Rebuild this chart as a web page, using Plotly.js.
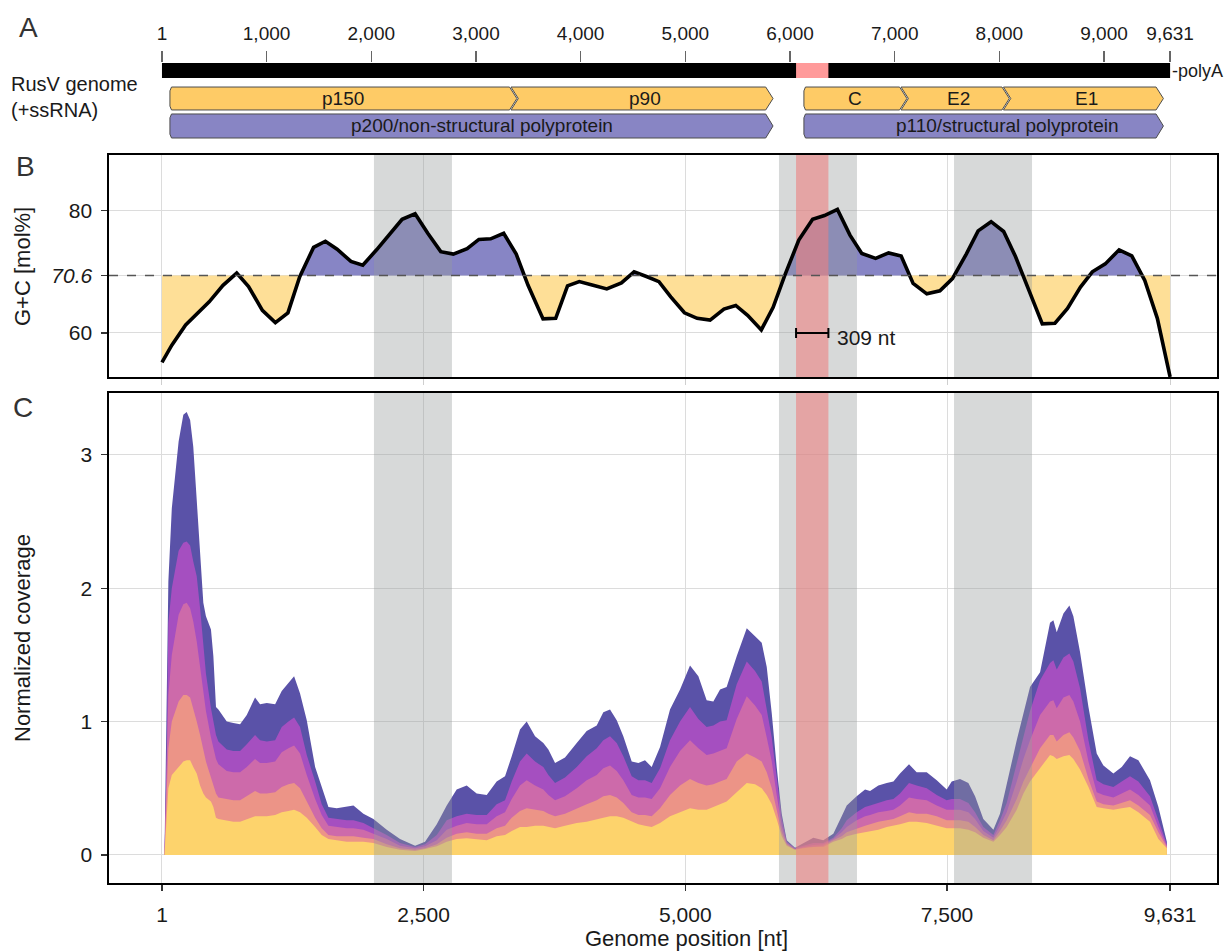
<!DOCTYPE html>
<html><head><meta charset="utf-8">
<script src="https://cdn.plot.ly/plotly-3.0.1.min.js"></script>
<style>html,body{margin:0;padding:0;background:#fff}#chart{width:1228px;height:951px}</style>
</head><body><div id="chart"></div>
<script>
// ---------------- data ----------------
const genomeStart = 1;
const genomeEnd = 9631;
const axisTickVals = [1, 2500, 5000, 7500, 9631];
const axisTickText = ['1', '2,500', '5,000', '7,500', '9,631'];
const mapTickVals = [1, 1000, 2000, 3000, 4000, 5000, 6000, 7000, 8000, 9000, 9631];
const mapTickText = ['1', '1,000', '2,000', '3,000', '4,000', '5,000', '6,000', '7,000', '8,000', '9,000', '9,631'];

const junctionStart = 6058;   // highlighted 309 nt region
const junctionEnd = 6367;
const junctionLabel = '309 nt';
const greyBandStart = [2026, 5895, 7567];
const greyBandEnd = [2771, 6640, 8312];

const geneNames = ['p150', 'p90', 'C', 'E2', 'E1', 'p200/non-structural polyprotein', 'p110/structural polyprotein'];
const geneStart = [77, 3391, 6133, 7117, 8095, 77, 6133];
const geneEnd = [3391, 5838, 7117, 8095, 9567, 5838, 9567];
const geneLabelAt = [1734, 4615, 6625, 7606, 8831, 3058, 8073];
const geneRow = [1, 1, 1, 1, 1, 2, 2];
const geneFollows = [false, true, false, true, true, false, false];
const geneKind = ['mature', 'mature', 'mature', 'mature', 'mature', 'poly', 'poly'];

const gcMeanLabel = '70.6';
const gcMeanLevel = 69.4;
const gcTickVals = [60, 80];
const gcPos = [1, 95, 227, 340, 452, 584, 715, 828, 960, 1084, 1204, 1317, 1449, 1562, 1674, 1806, 1919, 2051, 2183, 2295,
  2419, 2540, 2664, 2784, 2916, 3028, 3141, 3265, 3385, 3498, 3641, 3762, 3875, 3987, 4119, 4250, 4390, 4511, 4635, 4748,
  4861, 4992, 5113, 5237, 5369, 5482, 5595, 5726, 5839, 5952, 6084, 6216, 6329, 6453, 6573, 6686, 6818, 6942, 7062, 7176,
  7307, 7432, 7552, 7684, 7797, 7921, 8041, 8154, 8275, 8410, 8531, 8651, 8775, 8888, 9012, 9144, 9265, 9389, 9509, 9631];
const gcVal = [55.2, 58.0, 61.3, 63.2, 65.1, 67.8, 69.8, 67.6, 63.7, 61.7, 63.3, 69.2, 74.0, 75.0, 73.7, 71.7, 71.1, 73.6, 76.3, 78.6,
  79.5, 76.3, 73.3, 72.9, 73.8, 75.3, 75.4, 76.3, 72.9, 67.8, 62.3, 62.4, 67.7, 68.4, 67.8, 67.2, 68.2, 70.0, 69.2, 68.4,
  65.9, 63.3, 62.4, 62.1, 63.9, 64.5, 62.9, 60.5, 64.2, 69.5, 75.2, 78.6, 79.2, 80.2, 76.0, 73.0, 72.2, 73.1, 72.6, 68.1,
  66.4, 66.9, 68.9, 72.9, 76.7, 78.2, 76.6, 72.5, 67.3, 61.5, 61.6, 64.0, 67.5, 70.0, 71.3, 73.6, 72.6, 68.6, 62.4, 52.8];

const covTickVals = [0, 1, 2, 3];
const covPos = [25, 45, 62, 95, 160, 205, 237, 270, 300, 333,
  365, 396, 421, 469, 492, 517, 540, 620, 683, 747,
  811, 890, 938, 1002, 1082, 1145, 1209, 1263, 1320, 1384,
  1464, 1527, 1591, 1670, 1766, 1830, 1925, 2021, 2148, 2275,
  2419, 2514, 2626, 2721, 2816, 2912, 3007, 3103, 3198, 3278,
  3342, 3421, 3485, 3565, 3644, 3692, 3756, 3851, 3963, 4058,
  4154, 4217, 4281, 4345, 4408, 4488, 4552, 4615, 4679, 4759,
  4854, 4950, 5045, 5125, 5204, 5268, 5332, 5395, 5491, 5587,
  5666, 5730, 5778, 5826, 5873, 5921, 5969, 6048, 6127, 6223,
  6318, 6414, 6494, 6542, 6637, 6717, 6765, 6844, 6924, 6988,
  7051, 7137, 7210, 7306, 7402, 7497, 7545, 7624, 7704, 7768,
  7847, 7943, 8006, 8070, 8166, 8230, 8293, 8389, 8484, 8516,
  8548, 8612, 8669, 8707, 8771, 8851, 8930, 8994, 9089, 9169,
  9248, 9328, 9439, 9519, 9583, 9600];
const covTop = [0, 0.95, 2.05, 2.6, 3.1, 3.3, 3.32, 3.26, 3.06, 2.66,
  2.24, 1.89, 1.79, 1.69, 1.49, 1.11, 1.09, 1.00, 0.99, 0.98,
  1.05, 1.18, 1.13, 1.14, 1.13, 1.23, 1.29, 1.34, 1.21, 1.01,
  0.66, 0.51, 0.36, 0.35, 0.36, 0.37, 0.31, 0.27, 0.19, 0.12,
  0.07, 0.10, 0.23, 0.37, 0.49, 0.52, 0.46, 0.45, 0.55, 0.59,
  0.74, 0.94, 1.00, 0.89, 0.84, 0.79, 0.69, 0.73, 0.84, 0.93,
  0.97, 1.07, 1.09, 1.01, 0.89, 0.70, 0.69, 0.71, 0.66, 0.81,
  1.09, 1.24, 1.42, 1.34, 1.16, 1.15, 1.24, 1.26, 1.49, 1.70,
  1.64, 1.59, 1.41, 1.06, 0.66, 0.31, 0.11, 0.055, 0.088, 0.13,
  0.11, 0.16, 0.29, 0.37, 0.44, 0.49, 0.48, 0.52, 0.54, 0.55,
  0.61, 0.68, 0.62, 0.62, 0.56, 0.49, 0.55, 0.57, 0.54, 0.44,
  0.27, 0.19, 0.31, 0.54, 0.86, 1.06, 1.26, 1.37, 1.74, 1.76,
  1.67, 1.81, 1.87, 1.79, 1.52, 1.11, 0.76, 0.67, 0.61, 0.66,
  0.74, 0.71, 0.56, 0.36, 0.16, 0.10];
const covViolet = [0, 0.7, 1.74, 2.0, 2.28, 2.34, 2.35, 2.32, 2.2, 2.09,
  1.85, 1.6, 1.36, 1.1, 1.01, 0.9, 0.85, 0.79, 0.78, 0.78,
  0.83, 0.90, 0.86, 0.85, 0.86, 0.96, 1.0, 1.03, 0.96, 0.75,
  0.55, 0.38, 0.28, 0.27, 0.26, 0.26, 0.24, 0.2, 0.15, 0.09,
  0.06, 0.08, 0.15, 0.26, 0.29, 0.31, 0.30, 0.30, 0.38, 0.41,
  0.55, 0.70, 0.76, 0.70, 0.66, 0.60, 0.54, 0.58, 0.66, 0.74,
  0.80, 0.86, 0.89, 0.84, 0.74, 0.59, 0.56, 0.56, 0.54, 0.65,
  0.86, 1.0, 1.11, 1.02, 0.96, 0.97, 1.0, 1.01, 1.28, 1.45,
  1.38, 1.30, 1.1, 0.88, 0.58, 0.28, 0.10, 0.05, 0.07, 0.09,
  0.09, 0.13, 0.20, 0.26, 0.32, 0.36, 0.37, 0.39, 0.41, 0.42,
  0.46, 0.54, 0.52, 0.50, 0.45, 0.41, 0.42, 0.42, 0.39, 0.32,
  0.21, 0.15, 0.26, 0.39, 0.68, 0.89, 1.08, 1.31, 1.44, 1.46,
  1.39, 1.48, 1.51, 1.45, 1.25, 0.86, 0.56, 0.53, 0.51, 0.55,
  0.59, 0.55, 0.44, 0.26, 0.12, 0.08];
const covMagenta = [0, 0.55, 1.2, 1.5, 1.8, 1.88, 1.89, 1.85, 1.75, 1.6,
  1.42, 1.25, 1.08, 0.88, 0.8, 0.72, 0.68, 0.63, 0.62, 0.62,
  0.66, 0.72, 0.69, 0.69, 0.70, 0.77, 0.80, 0.82, 0.76, 0.6,
  0.42, 0.3, 0.22, 0.21, 0.2, 0.2, 0.19, 0.16, 0.12, 0.07,
  0.05, 0.065, 0.11, 0.19, 0.22, 0.24, 0.23, 0.23, 0.29, 0.32,
  0.42, 0.52, 0.56, 0.52, 0.49, 0.45, 0.41, 0.44, 0.5, 0.56,
  0.6, 0.65, 0.67, 0.63, 0.56, 0.45, 0.43, 0.43, 0.42, 0.5,
  0.66, 0.78, 0.86, 0.8, 0.75, 0.76, 0.78, 0.8, 1.02, 1.19,
  1.12, 1.05, 0.88, 0.7, 0.45, 0.22, 0.09, 0.045, 0.06, 0.075,
  0.08, 0.12, 0.17, 0.21, 0.26, 0.29, 0.30, 0.32, 0.33, 0.34,
  0.37, 0.43, 0.42, 0.41, 0.37, 0.34, 0.34, 0.34, 0.32, 0.27,
  0.18, 0.13, 0.22, 0.32, 0.55, 0.72, 0.86, 1.05, 1.15, 1.16,
  1.1, 1.18, 1.2, 1.15, 1.0, 0.7, 0.47, 0.45, 0.43, 0.46,
  0.49, 0.45, 0.37, 0.21, 0.1, 0.07];
const covSalmon = [0, 0.4, 0.8, 1.0, 1.15, 1.2, 1.2, 1.18, 1.1, 1.0,
  0.9, 0.78, 0.7, 0.58, 0.52, 0.46, 0.43, 0.42, 0.41, 0.41,
  0.44, 0.48, 0.46, 0.46, 0.47, 0.51, 0.53, 0.54, 0.5, 0.4,
  0.28, 0.2, 0.15, 0.14, 0.14, 0.14, 0.13, 0.12, 0.08, 0.05,
  0.04, 0.05, 0.08, 0.13, 0.16, 0.17, 0.16, 0.16, 0.2, 0.22,
  0.28, 0.33, 0.35, 0.34, 0.33, 0.31, 0.29, 0.31, 0.35, 0.38,
  0.41, 0.44, 0.45, 0.43, 0.39, 0.32, 0.3, 0.3, 0.29, 0.35,
  0.45, 0.52, 0.57, 0.54, 0.52, 0.53, 0.55, 0.57, 0.7, 0.76,
  0.73, 0.7, 0.62, 0.5, 0.34, 0.17, 0.08, 0.04, 0.055, 0.065,
  0.07, 0.11, 0.14, 0.17, 0.2, 0.22, 0.23, 0.25, 0.26, 0.27,
  0.29, 0.32, 0.31, 0.31, 0.29, 0.26, 0.26, 0.26, 0.25, 0.21,
  0.15, 0.11, 0.18, 0.26, 0.42, 0.55, 0.65, 0.8, 0.9, 0.9,
  0.85, 0.9, 0.92, 0.88, 0.78, 0.57, 0.4, 0.38, 0.37, 0.39,
  0.41, 0.37, 0.3, 0.17, 0.08, 0.06];
const covYellow = [0, 0.33, 0.5, 0.6, 0.66, 0.70, 0.71, 0.71, 0.66, 0.61,
  0.52, 0.46, 0.43, 0.40, 0.36, 0.28, 0.27, 0.26, 0.25, 0.25,
  0.27, 0.29, 0.29, 0.29, 0.30, 0.32, 0.33, 0.34, 0.32, 0.28,
  0.21, 0.15, 0.12, 0.11, 0.10, 0.10, 0.10, 0.09, 0.06, 0.04,
  0.03, 0.045, 0.065, 0.10, 0.12, 0.125, 0.12, 0.11, 0.14, 0.15,
  0.18, 0.21, 0.21, 0.22, 0.22, 0.21, 0.20, 0.22, 0.24, 0.25,
  0.27, 0.28, 0.29, 0.29, 0.28, 0.25, 0.23, 0.22, 0.21, 0.24,
  0.29, 0.32, 0.35, 0.34, 0.34, 0.36, 0.38, 0.40, 0.47, 0.54,
  0.53, 0.50, 0.45, 0.38, 0.27, 0.14, 0.07, 0.04, 0.05, 0.06,
  0.06, 0.10, 0.12, 0.14, 0.16, 0.17, 0.18, 0.19, 0.21, 0.22,
  0.23, 0.25, 0.25, 0.24, 0.22, 0.20, 0.20, 0.20, 0.19, 0.17,
  0.13, 0.10, 0.15, 0.21, 0.34, 0.46, 0.55, 0.65, 0.75, 0.74,
  0.72, 0.74, 0.75, 0.72, 0.64, 0.51, 0.36, 0.35, 0.34, 0.35,
  0.36, 0.32, 0.25, 0.12, 0.07, 0.05];

// ---------------- style / layout constants ----------------
const FONT = 'Liberation Sans, Arial, Helvetica, sans-serif';
const W = 1228, H = 951;
const XD = [109 / W, 1217 / W];
const XR = [-505, 10079];
const px = (p) => p / W;
const py = (p) => 1 - p / H;
const covRange = [-0.21, 3.463];
const gcRange = [52.8, 89.11];
const mapRange = [0, 10];
const barY = [8.05, 10];
const rowY = {1: [3.9, 6.88], 2: [0.26, 3.38]};
const tip = 70, gap = 14;
const GRID = '#dcdcdc';
const layerColors = ['#5a52a8', '#a54fc0', '#cd6aaa', '#ec9487', '#fdd36c'];
const layerSeries = [covTop, covViolet, covMagenta, covSalmon, covYellow];
const greyFill = 'rgba(150,156,156,0.38)';
const pinkFill = 'rgba(236,128,128,0.6)';

const traces = [];

// ---------------- panel C: coverage layers ----------------
layerSeries.forEach((ys, i) => {
  traces.push({x: covPos, y: ys, type: 'scatter', mode: 'lines', fill: 'tozeroy',
    fillcolor: layerColors[i], line: {width: 0, color: layerColors[i]},
    xaxis: 'x', yaxis: 'y', hoverinfo: 'skip'});
});
function bandTrace(s, e, yr, color, xa, ya) {
  return {x: [s, e, e, s, s], y: [yr[0], yr[0], yr[1], yr[1], yr[0]], type: 'scatter', mode: 'lines',
    fill: 'toself', fillcolor: color, line: {width: 0}, xaxis: xa, yaxis: ya, hoverinfo: 'skip'};
}
greyBandStart.forEach((s, i) => traces.push(bandTrace(s, greyBandEnd[i], covRange, greyFill, 'x', 'y')));
traces.push(bandTrace(junctionStart, junctionEnd, covRange, pinkFill, 'x', 'y'));

// ---------------- panel B: G+C ----------------
function splitAtLevel(xs, ys, lvl) {
  const X = [], Y = [];
  for (let i = 0; i < xs.length; i++) {
    X.push(xs[i]); Y.push(ys[i]);
    if (i < xs.length - 1 && (ys[i] - lvl) * (ys[i + 1] - lvl) < 0) {
      const t = (lvl - ys[i]) / (ys[i + 1] - ys[i]);
      X.push(xs[i] + t * (xs[i + 1] - xs[i])); Y.push(lvl);
    }
  }
  return {X, Y};
}
const sp = splitAtLevel(gcPos, gcVal, gcMeanLevel);
const base = sp.X.map(() => gcMeanLevel);
traces.push({x: sp.X, y: base, type: 'scatter', mode: 'lines', line: {width: 0}, xaxis: 'x2', yaxis: 'y2', hoverinfo: 'skip'});
traces.push({x: sp.X, y: sp.Y.map(v => Math.max(v, gcMeanLevel)), type: 'scatter', mode: 'lines', fill: 'tonexty',
  fillcolor: '#8785c5', line: {width: 0}, xaxis: 'x2', yaxis: 'y2', hoverinfo: 'skip'});
traces.push({x: sp.X, y: base, type: 'scatter', mode: 'lines', line: {width: 0}, xaxis: 'x2', yaxis: 'y2', hoverinfo: 'skip'});
traces.push({x: sp.X, y: sp.Y.map(v => Math.min(v, gcMeanLevel)), type: 'scatter', mode: 'lines', fill: 'tonexty',
  fillcolor: '#fedf97', line: {width: 0}, xaxis: 'x2', yaxis: 'y2', hoverinfo: 'skip'});
greyBandStart.forEach((s, i) => traces.push(bandTrace(s, greyBandEnd[i], gcRange, greyFill, 'x2', 'y2')));
traces.push(bandTrace(junctionStart, junctionEnd, gcRange, pinkFill, 'x2', 'y2'));
traces.push({x: gcPos, y: gcVal, type: 'scatter', mode: 'lines', line: {color: '#000', width: 3.6},
  xaxis: 'x2', yaxis: 'y2', hoverinfo: 'skip'});
// 309 nt scale bar
traces.push({x: [(junctionStart + junctionEnd) / 2], y: [60], type: 'scatter', mode: 'markers',
  marker: {size: 1, color: 'rgba(0,0,0,0)'},
  error_x: {type: 'data', array: [(junctionEnd - junctionStart) / 2], color: '#000', thickness: 2, width: 5},
  xaxis: 'x2', yaxis: 'y2', hoverinfo: 'skip'});

// ---------------- panel A: genome map ----------------
const geneAnn = [];
geneNames.forEach((name, i) => {
  const s = geneStart[i], e = geneEnd[i];
  const [yb, yt] = rowY[geneRow[i]];
  const ym = (yb + yt) / 2;
  let xs, ys;
  if (geneFollows[i]) {
    xs = [s - tip + gap, e - tip, e, e - tip, s - tip + gap, s + gap, s - tip + gap];
    ys = [yt, yt, ym, yb, yb, ym, yt];
  } else {
    xs = [s + 15, e - tip, e, e - tip, s + 15, s, s, s + 15];
    ys = [yt, yt, ym, yb, yb, yb + 0.5, yt - 0.5, yt];
  }
  const col = geneKind[i] === 'mature' ? '#fecb66' : '#8885c4';
  traces.push({x: xs, y: ys, type: 'scatter', mode: 'lines', fill: 'toself', fillcolor: col,
    line: {color: '#4d4d4d', width: 1}, xaxis: 'x3', yaxis: 'y3', hoverinfo: 'skip'});
  geneAnn.push({x: geneLabelAt[i], y: ym, xref: 'x3', yref: 'y3', text: name, showarrow: false,
    font: {size: 19, color: '#1a1a1a', family: FONT}, xanchor: 'center', yanchor: 'middle'});
});

const axisCommon = {
  showline: true, mirror: true, linecolor: '#000', linewidth: 1.6, zeroline: false,
  showgrid: true, gridcolor: GRID, gridwidth: 1
};

const layout = {
  width: W, height: H, margin: {l: 0, r: 0, t: 0, b: 0},
  paper_bgcolor: '#fff', plot_bgcolor: 'rgba(0,0,0,0)', showlegend: false,
  font: {family: FONT, size: 21, color: '#1a1a1a'},
  xaxis: Object.assign({}, axisCommon, {domain: XD, range: XR, anchor: 'y', tickvals: axisTickVals, ticktext: axisTickText,
    ticks: 'outside', ticklen: 6, tickwidth: 1.3, tickcolor: '#333', tickfont: {size: 21}, ticklabelstandoff: 6}),
  yaxis: Object.assign({}, axisCommon, {domain: [py(883), py(393)], range: covRange, anchor: 'x', tickvals: covTickVals,
    ticks: 'outside', ticklen: 6, tickwidth: 1.3, tickcolor: '#333', tickfont: {size: 21}, ticklabelstandoff: 5}),
  xaxis2: Object.assign({}, axisCommon, {domain: XD, range: XR, anchor: 'y2', tickvals: axisTickVals, showticklabels: false,
    ticks: 'outside', ticklen: 6, tickwidth: 1, tickcolor: '#cfcfcf'}),
  yaxis2: Object.assign({}, axisCommon, {domain: [py(377), py(155)], range: gcRange, anchor: 'x2',
    tickvals: [gcTickVals[0], gcMeanLevel, gcTickVals[1]],
    ticktext: [String(gcTickVals[0]), '<i>' + gcMeanLabel + '</i>', String(gcTickVals[1])],
    ticks: 'outside', ticklen: 6, tickwidth: 1.3, tickcolor: '#333', tickfont: {size: 21}, ticklabelstandoff: 5}),
  xaxis3: {domain: XD, range: XR, anchor: 'y3', side: 'top', tickvals: mapTickVals, ticktext: mapTickText,
    ticks: 'outside', ticklen: 11, tickwidth: 1.2, tickcolor: '#666', showgrid: false, showline: false, zeroline: false,
    tickfont: {size: 19}, ticklabelstandoff: 3},
  yaxis3: {domain: [py(140), py(63)], range: mapRange, anchor: 'x3', visible: false, showgrid: false, zeroline: false},
  shapes: [
    {type: 'rect', xref: 'x3', yref: 'y3', x0: genomeStart, x1: genomeEnd, y0: barY[0], y1: barY[1],
      fillcolor: '#000', line: {width: 0}},
    {type: 'rect', xref: 'x3', yref: 'y3', x0: junctionStart, x1: junctionEnd, y0: barY[0], y1: barY[1],
      fillcolor: '#ff9a9a', line: {width: 0}},
    {type: 'line', xref: 'x2 domain', yref: 'y2', x0: 0, x1: 1, y0: gcMeanLevel, y1: gcMeanLevel,
      line: {color: '#555', width: 1.6, dash: 'dash'}, layer: 'above'}
  ],
  annotations: [
    {xref: 'paper', yref: 'paper', x: px(28), y: py(27), text: 'A', showarrow: false, font: {size: 28, color: '#333'}, xanchor: 'center', yanchor: 'middle'},
    {xref: 'paper', yref: 'paper', x: px(25), y: py(166), text: 'B', showarrow: false, font: {size: 28, color: '#333'}, xanchor: 'center', yanchor: 'middle'},
    {xref: 'paper', yref: 'paper', x: px(23), y: py(407), text: 'C', showarrow: false, font: {size: 28, color: '#333'}, xanchor: 'center', yanchor: 'middle'},
    {xref: 'paper', yref: 'paper', x: px(9), y: py(97), text: 'RusV genome<br>(+ssRNA)', align: 'left', showarrow: false, font: {size: 20}, xanchor: 'left', yanchor: 'middle'},
    {xref: 'x3', yref: 'y3', x: genomeEnd, y: (barY[0] + barY[1]) / 2, text: '-polyA', showarrow: false, font: {size: 18}, xanchor: 'left', yanchor: 'middle'},
    {xref: 'paper', yref: 'paper', x: px(22), y: py(267), text: 'G+C [mol%]', textangle: -90, showarrow: false, font: {size: 22}, xanchor: 'center', yanchor: 'middle'},
    {xref: 'paper', yref: 'paper', x: px(22), y: py(638), text: 'Normalized coverage', textangle: -90, showarrow: false, font: {size: 22}, xanchor: 'center', yanchor: 'middle'},
    {xref: 'paper', yref: 'paper', x: px(686), y: py(938), text: 'Genome position [nt]', showarrow: false, font: {size: 22}, xanchor: 'center', yanchor: 'middle'},
    {xref: 'x2', yref: 'y2', x: junctionEnd + 60, y: 59.2, text: junctionLabel, showarrow: false, font: {size: 21}, xanchor: 'left', yanchor: 'middle'}
  ].concat(geneAnn)
};

Plotly.newPlot('chart', traces, layout, {staticPlot: true, displayModeBar: false});
</script>
</body></html>
